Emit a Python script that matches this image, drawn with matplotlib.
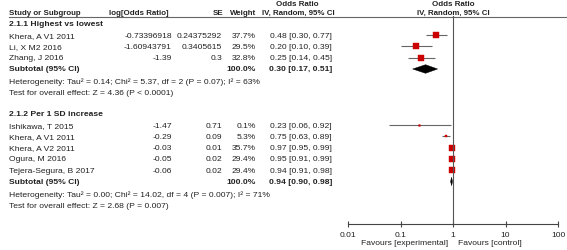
import matplotlib
matplotlib.use("Agg")
import matplotlib.pyplot as plt
import numpy as np
from matplotlib.patches import Polygon

plt.rcParams['font.family'] = ['Liberation Sans', 'DejaVu Sans']

# subgroup 2.1.1
g1_title = "2.1.1 Highest vs lowest"
g1_names = ["Khera, A V1 2011", "Li, X M2 2016", "Zhang, J 2016"]
g1_logor = [-0.73396918, -1.60943791, -1.39]
g1_se = [0.24375292, 0.3405615, 0.3]
g1_weight = [37.7, 29.5, 32.8]
g1_or = [0.48, 0.20, 0.25]
g1_lo = [0.30, 0.10, 0.14]
g1_hi = [0.77, 0.39, 0.45]
g1_sub = (0.30, 0.17, 0.51)
g1_het = "Heterogeneity: Tau² = 0.14; Chi² = 5.37, df = 2 (P = 0.07); I² = 63%"
g1_test = "Test for overall effect: Z = 4.36 (P < 0.0001)"

# subgroup 2.1.2
g2_title = "2.1.2 Per 1 SD increase"
g2_names = ["Ishikawa, T 2015", "Khera, A V1 2011", "Khera, A V2 2011",
            "Ogura, M 2016", "Tejera-Segura, B 2017"]
g2_logor = [-1.47, -0.29, -0.03, -0.05, -0.06]
g2_se = [0.71, 0.09, 0.01, 0.02, 0.02]
g2_weight = [0.1, 5.3, 35.7, 29.4, 29.4]
g2_or = [0.23, 0.75, 0.97, 0.95, 0.94]
g2_lo = [0.06, 0.63, 0.95, 0.91, 0.91]
g2_hi = [0.92, 0.89, 0.99, 0.99, 0.98]
g2_sub = (0.94, 0.90, 0.98)
g2_het = "Heterogeneity: Tau² = 0.00; Chi² = 14.02, df = 4 (P = 0.007); I² = 71%"
g2_test = "Test for overall effect: Z = 2.68 (P = 0.007)"

xticks = [0.01, 0.1, 1, 10, 100]
xtick_labels = ["0.01", "0.1", "1", "10", "100"]

TXT = '#222222'
FS = 6.1
HFS = 5.7   # column headers
W, H = 567, 251
X0 = 9


def row_y(i):
    return 25 + 11.25 * i


fig = plt.figure(figsize=(W / 100, H / 100), dpi=100)
bg = fig.add_axes([0, 0, 1, 1])
bg.set_xlim(0, W)
bg.set_ylim(H, 0)
bg.axis('off')

# forest panel: 0.01 at x=348, 100 at x=558, from y=17 to y=225
ax = fig.add_axes([348 / W, (H - 225) / H, 210 / W, 208 / H])
ax.set_xscale('log')
ax.set_xlim(0.01, 100)
ax.set_ylim(225, 17)
ax.patch.set_alpha(0)

# headers
bg.text(297, 4.5, "Odds Ratio", ha='center', va='center', fontsize=HFS, fontweight='bold', color=TXT)
bg.text(453, 4.5, "Odds Ratio", ha='center', va='center', fontsize=HFS, fontweight='bold', color=TXT)
hy = 13.5
bg.text(X0, hy, "Study or Subgroup", ha='left', va='center', fontsize=HFS, fontweight='bold', color=TXT)
bg.text(169, hy, "log[Odds Ratio]", ha='right', va='center', fontsize=HFS, fontweight='bold', color=TXT)
bg.text(223, hy, "SE", ha='right', va='center', fontsize=HFS, fontweight='bold', color=TXT)
bg.text(256, hy, "Weight", ha='right', va='center', fontsize=HFS, fontweight='bold', color=TXT)
bg.text(298, hy, "IV, Random, 95% CI", ha='center', va='center', fontsize=HFS, fontweight='bold', color=TXT)
bg.text(453, hy, "IV, Random, 95% CI", ha='center', va='center', fontsize=HFS, fontweight='bold', color=TXT)
bg.plot([X0, W], [17.5, 17.5], color='#666666', lw=0.8)


def draw_group(start, title, names, logor, se, weight, orr, lo, hi, sub, het, test):
    bg.text(X0, row_y(start), title, ha='left', va='center', fontsize=FS, fontweight='bold', color=TXT)
    for k in range(len(names)):
        y = row_y(start + 1 + k)
        bg.text(X0, y, names[k], ha='left', va='center', fontsize=FS, color=TXT)
        bg.text(172, y, str(logor[k]), ha='right', va='center', fontsize=FS, color=TXT)
        bg.text(222, y, str(se[k]), ha='right', va='center', fontsize=FS, color=TXT)
        bg.text(256, y, "%.1f%%" % weight[k], ha='right', va='center', fontsize=FS, color=TXT)
        bg.text(332, y, "%.2f [%.2f, %.2f]" % (orr[k], lo[k], hi[k]), ha='right', va='center',
                fontsize=FS, color=TXT)
        ax.plot([lo[k], hi[k]], [y, y], color='#666666', lw=0.8, solid_capstyle='butt')
        ms = max(np.sqrt(weight[k]) * 0.72, 1.2)
        ax.plot(orr[k], y, marker='s', ms=ms, color='#cc0000', mec='#cc0000', mew=0.3, ls='none')
    ys = row_y(start + 1 + len(names))
    bg.text(X0, ys, "Subtotal (95% CI)", ha='left', va='center', fontsize=FS, fontweight='bold', color=TXT)
    bg.text(256, ys, "100.0%", ha='right', va='center', fontsize=FS, fontweight='bold', color=TXT)
    bg.text(332, ys, "%.2f [%.2f, %.2f]" % sub, ha='right', va='center', fontsize=FS,
            fontweight='bold', color=TXT)
    m, l, h = sub
    ax.add_patch(Polygon([(l, ys), (m, ys - 4.3), (h, ys), (m, ys + 4.3)], closed=True,
                         facecolor='black', edgecolor='black', lw=0.3))
    bg.text(X0, ys + 12.5, het, ha='left', va='center', fontsize=FS, color=TXT)
    bg.text(X0, ys + 23.8, test, ha='left', va='center', fontsize=FS, color=TXT)


draw_group(0, g1_title, g1_names, g1_logor, g1_se, g1_weight, g1_or, g1_lo, g1_hi, g1_sub, g1_het, g1_test)
draw_group(8, g2_title, g2_names, g2_logor, g2_se, g2_weight, g2_or, g2_lo, g2_hi, g2_sub, g2_het, g2_test)

ax.axvline(1, color='#555555', lw=0.8)
for s in ['top', 'right', 'left']:
    ax.spines[s].set_visible(False)
ax.spines['bottom'].set_color('#444444')
ax.spines['bottom'].set_linewidth(0.8)
ax.set_yticks([])
ax.set_xticks(xticks)
ax.set_xticklabels(xtick_labels)
ax.minorticks_off()
ax.tick_params(axis='x', direction='inout', length=4, width=0.8, color='#444444',
               labelsize=FS, labelcolor=TXT, pad=3)

bg.text(448, 243.5, "Favours [experimental]", ha='right', va='center', fontsize=FS, color=TXT)
bg.text(458, 243.5, "Favours [control]", ha='left', va='center', fontsize=FS, color=TXT)

fig.savefig("out.png", dpi=100)
